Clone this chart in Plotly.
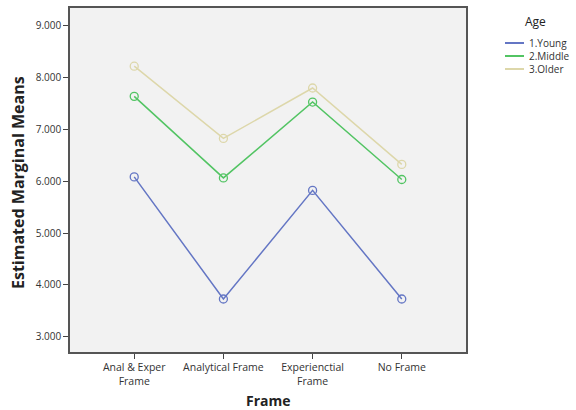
import plotly.graph_objects as go

frames = ["Anal & Exper<br>Frame", "Analytical Frame", "Experienctial<br>Frame", "No Frame"]
groups = ["1.Young", "2.Middle", "3.Older"]
young = [6.08, 3.73, 5.82, 3.73]
middle = [7.63, 6.06, 7.52, 6.03]
older = [8.21, 6.82, 7.79, 6.32]
yticks = [3, 4, 5, 6, 7, 8, 9]
colors = ["#6476c4", "#52c463", "#ddd7aa"]

L, R, T, B, W, H = 70, 110, 8, 58, 576, 410
pw, ph = W - L - R, H - T - B


def px(x):
    return (x - L) / pw


def py(y):
    return (H - B - y) / ph


fig = go.Figure()
for name, vals, c in zip(groups, [young, middle, older], colors):
    fig.add_trace(go.Scatter(
        x=list(range(len(frames))), y=vals, name=name, mode="lines+markers",
        line=dict(color=c, width=1.5), showlegend=False,
        marker=dict(symbol="circle-open", size=8, color=c, line=dict(width=1.3)),
    ))

# manual legend (line-only swatches, compact spacing like the reference)
annotations = [dict(text="Age", x=px(535), y=py(22), xref="paper", yref="paper",
                    showarrow=False, xanchor="center", yanchor="middle",
                    font=dict(size=12, color="#222"))]
shapes = []
for i, (name, c) in enumerate(zip(groups, colors)):
    yy = 43 + 13 * i
    shapes.append(dict(type="line", xref="paper", yref="paper",
                       x0=px(505), x1=px(524), y0=py(yy), y1=py(yy),
                       line=dict(color=c, width=2)))
    annotations.append(dict(text=name, x=px(527), y=py(yy), xref="paper", yref="paper",
                            showarrow=False, xanchor="left", yanchor="middle",
                            font=dict(size=10, color="#333")))

# axis titles
annotations.append(dict(text="<b>Frame</b>", x=px(268), y=py(400), xref="paper", yref="paper",
                        showarrow=False, xanchor="center", yanchor="middle",
                        font=dict(size=14, color="#222")))
annotations.append(dict(text="<b>Estimated Marginal Means</b>", x=px(18), y=py(183),
                        xref="paper", yref="paper", textangle=-90,
                        showarrow=False, xanchor="center", yanchor="middle",
                        font=dict(size=16, color="#222")))

fig.update_layout(
    width=W, height=H,
    margin=dict(l=L, r=R, t=T, b=B),
    paper_bgcolor="white", plot_bgcolor="#f2f2f2",
    font=dict(family="Open Sans, Liberation Sans, sans-serif", size=10, color="#333"),
    showlegend=False,
    annotations=annotations, shapes=shapes,
)
fig.update_xaxes(
    range=[-0.72, 3.72], automargin=False,
    tickvals=list(range(len(frames))), ticktext=frames,
    ticks="outside", ticklen=5, tickcolor="#444",
    showgrid=False, zeroline=False,
    showline=True, linecolor="#555", linewidth=1.5, mirror=True,
    tickfont=dict(size=10.5, color="#333"),
)
fig.update_yaxes(
    range=[2.71, 9.33], automargin=False,
    tickvals=yticks, ticktext=[f"{v:.3f}" for v in yticks],
    ticks="outside", ticklen=5, tickcolor="#444",
    showgrid=False, zeroline=False,
    showline=True, linecolor="#555", linewidth=1.5, mirror=True,
    tickfont=dict(size=10, color="#333"),
)

fig.write_html(
    "out.html",
    config={"displayModeBar": False},
    post_script="document.body.style.margin='0';document.body.style.overflow='hidden';",
)
